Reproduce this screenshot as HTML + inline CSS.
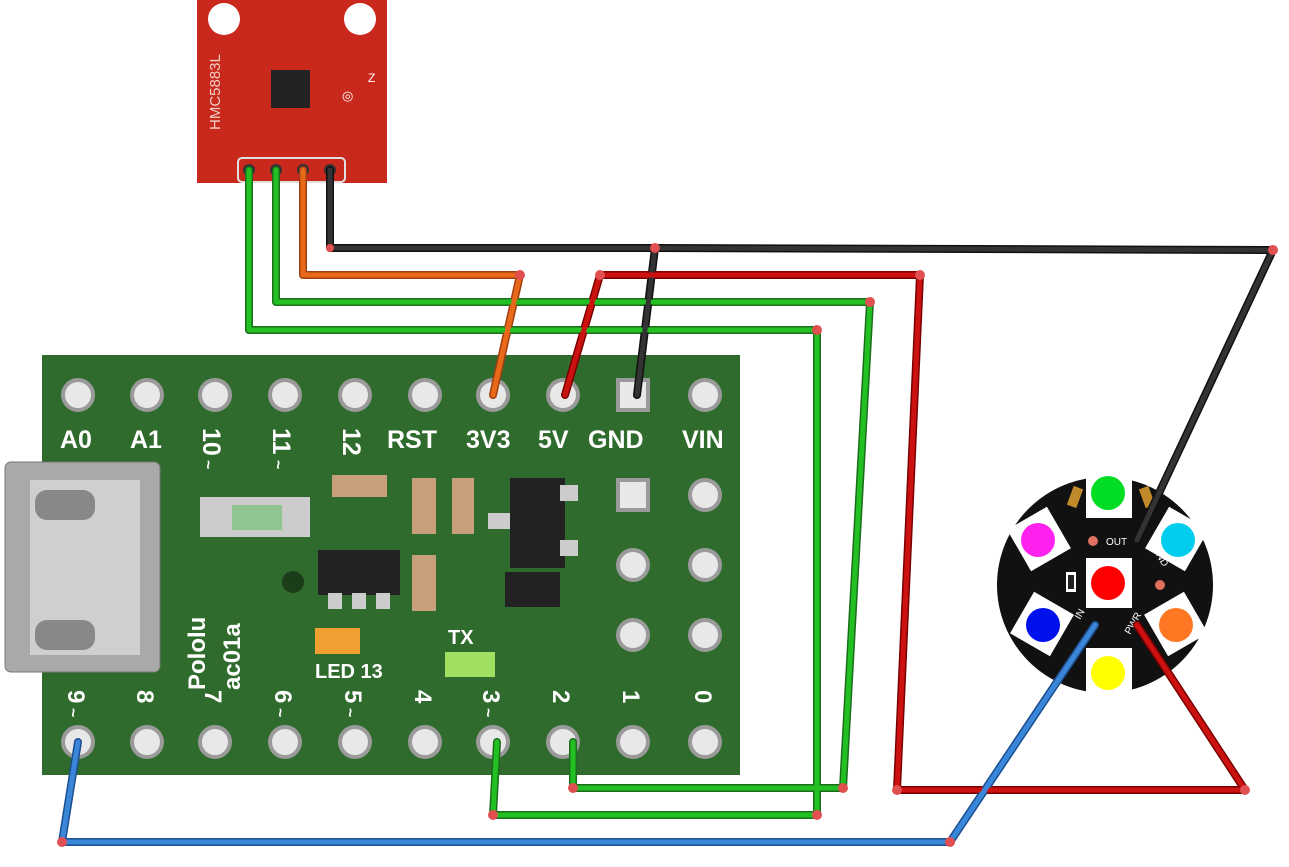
<!DOCTYPE html>
<html><head><style>
html,body{margin:0;padding:0;background:#fff;}
svg{display:block;font-family:"Liberation Sans",sans-serif;}
</style></head><body>
<svg width="1289" height="867" viewBox="0 0 1289 867" xmlns="http://www.w3.org/2000/svg">
<rect width="1289" height="867" fill="#fff"/>
<!-- HMC board -->
<rect x="197" y="0" width="190" height="183" fill="#c9281c"/>
<circle cx="224" cy="19" r="16" fill="#fff"/>
<circle cx="360" cy="19" r="16" fill="#fff"/>
<rect x="271" y="70" width="39" height="38" fill="#222"/>
<text x="220" y="130" fill="#f2d0c8" font-size="15" transform="rotate(-90 220 130)">HMC5883L</text>
<text x="342" y="100" fill="#fff" font-size="13">◎</text>
<text x="368" y="82" fill="#fff" font-size="12">Z</text>
<rect x="238" y="158" width="107" height="24" rx="4" fill="#c9281c" stroke="#e0e0e0" stroke-width="2"/>
<g fill="#333"><circle cx="249" cy="170" r="6"/><circle cx="276" cy="170" r="6"/><circle cx="303" cy="170" r="6"/><circle cx="330" cy="170" r="6"/></g>
<!-- Pololu board -->
<rect x="42" y="355" width="698" height="420" fill="#2f6b2c"/>
<rect x="5" y="462" width="155" height="210" rx="6" fill="#a9a9a9" stroke="#777"/>
<rect x="30" y="480" width="110" height="175" fill="#cfcfcf"/>
<rect x="35" y="490" width="60" height="30" rx="12" fill="#888"/>
<rect x="35" y="620" width="60" height="30" rx="12" fill="#888"/>
<g fill="#e8e8e8" stroke="#9a9a9a" stroke-width="4">
<circle cx="78" cy="395" r="15"/><circle cx="147" cy="395" r="15"/><circle cx="215" cy="395" r="15"/><circle cx="285" cy="395" r="15"/><circle cx="355" cy="395" r="15"/><circle cx="425" cy="395" r="15"/><circle cx="493" cy="395" r="15"/><circle cx="563" cy="395" r="15"/><circle cx="705" cy="395" r="15"/>
<circle cx="705" cy="495" r="15"/><circle cx="633" cy="565" r="15"/><circle cx="705" cy="565" r="15"/><circle cx="633" cy="635" r="15"/><circle cx="705" cy="635" r="15"/>
<circle cx="78" cy="742" r="15"/><circle cx="147" cy="742" r="15"/><circle cx="215" cy="742" r="15"/><circle cx="285" cy="742" r="15"/><circle cx="355" cy="742" r="15"/><circle cx="425" cy="742" r="15"/><circle cx="493" cy="742" r="15"/><circle cx="563" cy="742" r="15"/><circle cx="633" cy="742" r="15"/><circle cx="705" cy="742" r="15"/>
</g>
<rect x="618" y="380" width="30" height="30" fill="#e8e8e8" stroke="#9a9a9a" stroke-width="4"/>
<rect x="618" y="480" width="30" height="30" fill="#e8e8e8" stroke="#9a9a9a" stroke-width="4"/>
<g fill="#fff" font-size="25" font-weight="bold">
<text x="60" y="448">A0</text><text x="130" y="448">A1</text><text x="387" y="448">RST</text><text x="466" y="448">3V3</text><text x="538" y="448">5V</text><text x="588" y="448">GND</text><text x="682" y="448">VIN</text>
<text x="203" y="428" transform="rotate(90 203 428)">10</text><text x="273" y="428" transform="rotate(90 273 428)">11</text><text x="343" y="428" transform="rotate(90 343 428)">12</text>
<text x="205" y="690" transform="rotate(-90 205 690)" font-size="24">Pololu</text>
<text x="240" y="690" transform="rotate(-90 240 690)" font-size="24">ac01a</text>
<text x="315" y="678" font-size="20">LED 13</text><text x="448" y="644" font-size="20">TX</text>
</g>
<g fill="#fff" font-size="24" font-weight="bold">
<text x="68" y="690" transform="rotate(90 68 690)">9</text><text x="137" y="690" transform="rotate(90 137 690)">8</text><text x="205" y="690" transform="rotate(90 205 690)">7</text><text x="275" y="690" transform="rotate(90 275 690)">6</text><text x="345" y="690" transform="rotate(90 345 690)">5</text><text x="415" y="690" transform="rotate(90 415 690)">4</text><text x="483" y="690" transform="rotate(90 483 690)">3</text><text x="553" y="690" transform="rotate(90 553 690)">2</text><text x="623" y="690" transform="rotate(90 623 690)">1</text><text x="695" y="690" transform="rotate(90 695 690)">0</text>
</g>
<g fill="#fff" font-size="16" font-weight="bold">
<text x="68" y="708" transform="rotate(90 68 708)">~</text><text x="275" y="708" transform="rotate(90 275 708)">~</text><text x="345" y="708" transform="rotate(90 345 708)">~</text><text x="483" y="708" transform="rotate(90 483 708)">~</text>
<text x="203" y="460" transform="rotate(90 203 460)">~</text><text x="273" y="460" transform="rotate(90 273 460)">~</text>
</g>
<g fill="#222"><rect x="318" y="550" width="82" height="45"/><rect x="510" y="478" width="55" height="90"/><rect x="505" y="572" width="55" height="35"/></g>
<g fill="#cccccc"><rect x="328" y="593" width="14" height="16"/><rect x="352" y="593" width="14" height="16"/><rect x="376" y="593" width="14" height="16"/><rect x="560" y="485" width="18" height="16"/><rect x="560" y="540" width="18" height="16"/><rect x="488" y="513" width="22" height="16"/></g>
<g fill="#c79f7a"><rect x="412" y="478" width="24" height="56"/><rect x="412" y="555" width="24" height="56"/><rect x="452" y="478" width="22" height="56"/><rect x="332" y="475" width="55" height="22"/></g>
<rect x="200" y="497" width="110" height="40" fill="#cccccc"/><rect x="232" y="505" width="50" height="25" fill="#8fc68f"/>
<circle cx="293" cy="582" r="11" fill="#1b3d1a"/>
<rect x="315" y="628" width="45" height="26" fill="#f0a030"/>
<rect x="445" y="652" width="50" height="25" fill="#a0e060"/>
<!-- NeoPixel jewel -->
<circle cx="1105" cy="585" r="108" fill="#111"/>
<g fill="#fff">
<rect x="1086" y="468" width="46" height="50"/><rect x="1086" y="648" width="46" height="50"/>
<rect x="1086" y="558" width="46" height="50"/>
<rect x="1016" y="515" width="46" height="48" transform="rotate(-30 1039 539)"/>
<rect x="1154" y="515" width="46" height="48" transform="rotate(30 1177 539)"/>
<rect x="1019" y="600" width="46" height="48" transform="rotate(30 1042 624)"/>
<rect x="1153" y="600" width="46" height="48" transform="rotate(-30 1176 624)"/>
</g>
<circle cx="1108" cy="493" r="17" fill="#00dd22"/><circle cx="1108" cy="673" r="17" fill="#ffff00"/><circle cx="1108" cy="583" r="17" fill="#ff0000"/>
<circle cx="1038" cy="540" r="17" fill="#ff22ee"/><circle cx="1178" cy="540" r="17" fill="#00ccee"/>
<circle cx="1043" cy="625" r="17" fill="#0011ee"/><circle cx="1176" cy="625" r="17" fill="#ff7722"/>
<g fill="#c08a2a"><rect x="1070" y="487" width="10" height="20" transform="rotate(20 1075 497)"/><rect x="1142" y="487" width="10" height="20" transform="rotate(-20 1147 497)"/></g>
<circle cx="1093" cy="541" r="5" fill="#e07060"/><circle cx="1160" cy="585" r="5" fill="#e07060"/>
<rect x="1066" y="572" width="10" height="20" fill="#fff"/><rect x="1068" y="575" width="6" height="14" fill="#222"/>
<g fill="#fff" font-size="10"><text x="1106" y="545">OUT</text><text x="1152" y="548" transform="rotate(60 1152 548)">GND</text><text x="1080" y="620" transform="rotate(-60 1080 620)">IN</text><text x="1130" y="635" transform="rotate(-60 1130 635)">PWR</text></g>
<!-- Wires -->
<g fill="none" stroke-linecap="round" stroke-linejoin="round" stroke-width="8">
<polyline stroke="#1c6e1c" points="249,170 249,330 817,330 817,815 493,815 497,742"/>
<polyline stroke="#1c6e1c" points="276,170 276,302 870,302 843,788 573,788 573,742"/>
<polyline stroke="#a04010" points="303,170 303,275 520,275 493,395"/>
<polyline stroke="#101010" points="330,170 330,248 655,248 1273,250 1137,540"/>
<polyline stroke="#101010" points="655,248 637,395"/>
<polyline stroke="#7a0000" points="565,395 600,275 920,275 897,790 1245,790 1137,625"/>
<polyline stroke="#1d4f90" points="78,742 62,842 950,842 1095,625"/>
</g>
<g fill="none" stroke-linecap="round" stroke-linejoin="round" stroke-width="5">
<polyline stroke="#22c022" points="249,170 249,330 817,330 817,815 493,815 497,742"/>
<polyline stroke="#22c022" points="276,170 276,302 870,302 843,788 573,788 573,742"/>
<polyline stroke="#e8691a" points="303,170 303,275 520,275 493,395"/>
<polyline stroke="#333" points="330,170 330,248 655,248 1273,250 1137,540"/>
<polyline stroke="#333" points="655,248 637,395"/>
<polyline stroke="#cc1111" points="565,395 600,275 920,275 897,790 1245,790 1137,625"/>
<polyline stroke="#3a86d8" points="78,742 62,842 950,842 1095,625"/>
</g>
<g fill="#e05050">
<circle cx="655" cy="248" r="5"/><circle cx="1273" cy="250" r="5"/><circle cx="330" cy="248" r="4"/><circle cx="520" cy="275" r="5"/><circle cx="600" cy="275" r="5"/><circle cx="920" cy="275" r="5"/><circle cx="870" cy="302" r="5"/><circle cx="817" cy="330" r="5"/><circle cx="897" cy="790" r="5"/><circle cx="1245" cy="790" r="5"/><circle cx="843" cy="788" r="5"/><circle cx="817" cy="815" r="5"/><circle cx="493" cy="815" r="5"/><circle cx="573" cy="788" r="5"/><circle cx="62" cy="842" r="5"/><circle cx="950" cy="842" r="5"/>
</g>
</svg>
</body></html>
